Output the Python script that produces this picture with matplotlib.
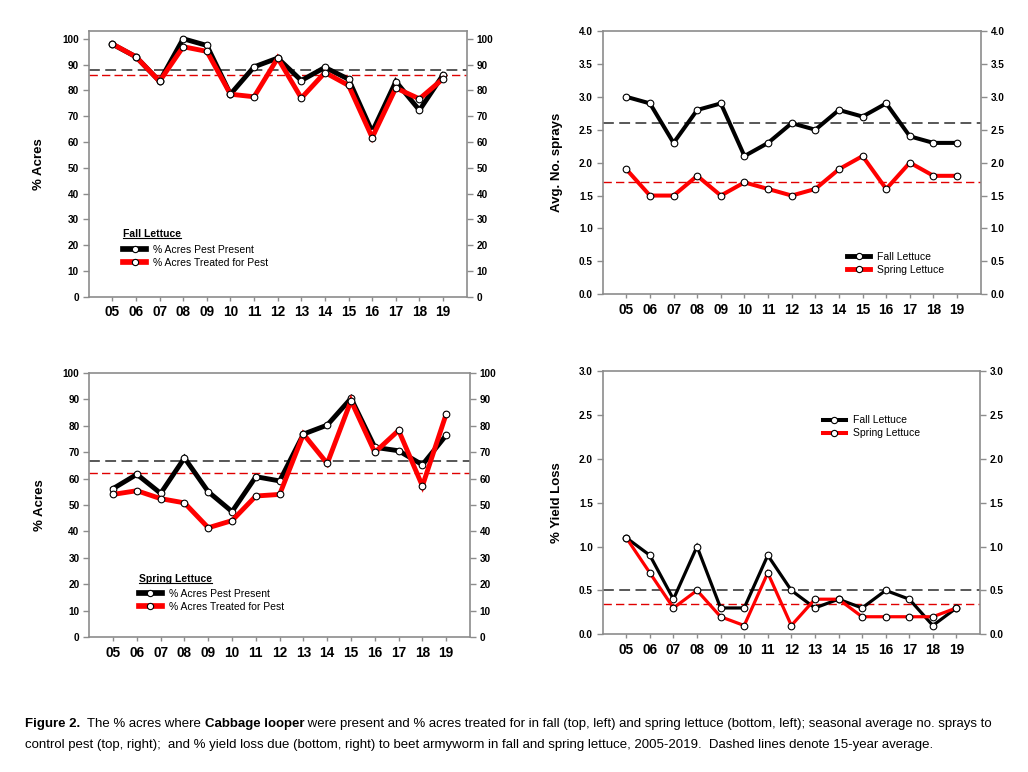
import numpy as np
import matplotlib.pyplot as plt
from matplotlib.lines import Line2D

plt.rcParams['font.family'] = ['Liberation Sans', 'DejaVu Sans']

years = ['05', '06', '07', '08', '09', '10', '11', '12', '13', '14', '15', '16', '17', '18', '19']

# fall lettuce, % acres (top left)
fall_present = [97.9, 93.0, 83.5, 100.0, 97.4, 78.5, 89.1, 92.5, 83.8, 88.9, 84.3, 63.9, 83.4, 72.3, 86.0]
fall_treated = [98.0, 93.0, 83.5, 96.9, 95.1, 78.5, 77.5, 92.5, 77.0, 86.9, 81.9, 61.7, 80.9, 76.7, 84.5]
fall_present_avg = 87.8
fall_treated_avg = 85.9

# spring lettuce, % acres (bottom left)
spring_present = [56.2, 61.6, 54.4, 67.8, 55.0, 47.5, 60.7, 59.1, 76.8, 80.2, 90.3, 71.8, 70.5, 65.2, 76.4]
spring_treated = [54.0, 55.4, 52.4, 50.8, 41.4, 44.1, 53.4, 54.0, 76.8, 65.7, 89.4, 69.9, 78.2, 57.2, 84.4]
spring_present_avg = 66.5
spring_treated_avg = 62.0

# avg no. sprays (top right)
sprays_fall = [3.0, 2.9, 2.3, 2.8, 2.9, 2.1, 2.3, 2.6, 2.5, 2.8, 2.7, 2.9, 2.4, 2.3, 2.3]
sprays_spring = [1.9, 1.5, 1.5, 1.8, 1.5, 1.7, 1.6, 1.5, 1.6, 1.9, 2.1, 1.6, 2.0, 1.8, 1.8]
sprays_fall_avg = 2.6
sprays_spring_avg = 1.7

# % yield loss (bottom right)
loss_fall = [1.1, 0.9, 0.4, 1.0, 0.3, 0.3, 0.9, 0.5, 0.3, 0.4, 0.3, 0.5, 0.4, 0.1, 0.3]
loss_spring = [1.1, 0.7, 0.3, 0.5, 0.2, 0.1, 0.7, 0.1, 0.4, 0.4, 0.2, 0.2, 0.2, 0.2, 0.3]
loss_fall_avg = 0.51
loss_spring_avg = 0.35

GRAY = '#8c8c8c'
W, H = 1028, 772

fig = plt.figure(figsize=(W / 100, H / 100), dpi=100)


def px_axes(left, top, right, bottom):
    return fig.add_axes([left / W, 1 - bottom / H, (right - left) / W, (bottom - top) / H])


def style(ax, ymax, ystep, top, fmt):
    x = np.arange(len(years))
    ax.set_xlim(-1, len(years))
    ax.set_ylim(0, top)
    ax.set_xticks(x)
    ax.set_xticklabels(years)
    ticks = np.arange(0, ymax + ystep / 2, ystep)
    ax.set_yticks(ticks)
    ax.set_yticklabels([fmt % t for t in ticks])
    for s in ax.spines.values():
        s.set_color(GRAY)
        s.set_linewidth(1.2)
    ax.tick_params(axis='y', left=True, right=True, labelleft=True, labelright=True,
                   direction='out', length=4, width=1, color=GRAY, labelsize=7.2, pad=3)
    ax.tick_params(axis='x', direction='out', length=3, width=1, color=GRAY, labelsize=9.8, pad=3)
    for t in ax.xaxis.get_major_ticks() + ax.yaxis.get_major_ticks():
        t.label1.set_fontweight('bold')
        t.label2.set_fontweight('bold')


def draw(ax, black, red, black_avg, red_avg, lw, labels):
    x = np.arange(len(years))
    ax.axhline(black_avg, color='#4a4a4a', lw=1.3, ls=(0, (6, 3)), zorder=1)
    ax.axhline(red_avg, color='#e00000', lw=1.0, ls=(0, (6, 3)), zorder=1)
    kw = dict(marker='o', ms=4.8, mfc='white', mec='black', mew=0.8, solid_joinstyle='miter')
    h1, = ax.plot(x, black, color='black', lw=lw, zorder=3, label=labels[0], **kw)
    h2, = ax.plot(x, red, color='#ff0000', lw=lw, zorder=4, label=labels[1], **kw)
    return [h1, h2]


def legend(ax, handles, x, y, lw):
    hs = [Line2D([], [], color=h.get_color(), lw=lw + 0.6, marker='o', ms=4.5,
                 mfc='white', mec='black', mew=0.8) for h in handles]
    ax.legend(hs, [h.get_label() for h in handles], loc='upper left', bbox_to_anchor=(x, y),
              frameon=False, fontsize=7.5, handlelength=2.2, handletextpad=0.7,
              borderpad=0, borderaxespad=0, labelspacing=0.3, numpoints=1)


ax1 = px_axes(88.7, 31, 466.7, 296.7)
ax2 = px_axes(602.7, 31, 980.7, 294.3)
ax3 = px_axes(89.3, 372.7, 470, 637.3)
ax4 = px_axes(602.7, 371, 980, 634.3)

acre_labels = ['% Acres Pest Present', '% Acres Treated for Pest']
lettuce_labels = ['Fall Lettuce', 'Spring Lettuce']

h = draw(ax1, fall_present, fall_treated, fall_present_avg, fall_treated_avg, 3.5, acre_labels)
style(ax1, 100, 10, 103, '%d')
legend(ax1, h, 0.091, 0.195, 3.5)

h = draw(ax2, sprays_fall, sprays_spring, sprays_fall_avg, sprays_spring_avg, 2.9, lettuce_labels)
style(ax2, 4.0, 0.5, 4.0, '%.1f')
legend(ax2, h, 0.647, 0.162, 2.9)

h = draw(ax3, spring_present, spring_treated, spring_present_avg, spring_treated_avg, 3.5, acre_labels)
style(ax3, 100, 10, 100, '%d')
legend(ax3, h, 0.130, 0.183, 3.5)

h = draw(ax4, loss_fall, loss_spring, loss_fall_avg, loss_spring_avg, 2.3, lettuce_labels)
style(ax4, 3.0, 0.5, 3.0, '%.1f')
legend(ax4, h, 0.583, 0.832, 2.3)

for ax, lab, lx in [(ax1, '% Acres', -0.116), (ax2, 'Avg. No. sprays', -0.106),
                    (ax3, '% Acres', -0.115), (ax4, '% Yield Loss', -0.106)]:
    ax.set_ylabel(lab, fontsize=9.5, fontweight='bold')
    ax.yaxis.set_label_coords(lx, 0.5)

titles = [ax1.text(0.091, 0.236, 'Fall Lettuce', transform=ax1.transAxes, fontsize=7.5,
                   fontweight='bold', va='center'),
          ax3.text(0.130, 0.220, 'Spring Lettuce', transform=ax3.transAxes, fontsize=7.5,
                   fontweight='bold', va='center')]

fig.canvas.draw()
renderer = fig.canvas.get_renderer()
for t in titles:
    bb = t.get_window_extent(renderer)
    yy = (bb.y0 + 1) / H
    fig.add_artist(Line2D([bb.x0 / W, bb.x1 / W], [yy, yy], color='black', lw=0.8))

# caption with mixed bold runs, sized so the first line spans like the original
cap_font = ['Liberation Sans', 'DejaVu Sans']
line1 = [('Figure 2.', 'bold'), ('  The % acres where ', 'normal'), ('Cabbage looper', 'bold'),
         (' were present and % acres treated for in fall (top, left) and spring lettuce (bottom, left); '
          'seasonal average no. sprays to', 'normal')]
line2 = [('control pest (top, right);  and % yield loss due (bottom, right) to beet armyworm in fall '
          'and spring lettuce, 2005-2019.  Dashed lines denote 15-year average.', 'normal')]

probe = 10
total = 0
for txt, wt in line1:
    t = fig.text(0, 0, txt, fontsize=probe, fontweight=wt, family=cap_font)
    total += t.get_window_extent(renderer).width
    t.remove()
cap_size = probe * 972 / total

for runs, yb in [(line1, 727), (line2, 748)]:
    xp = 25
    for txt, wt in runs:
        t = fig.text(xp / W, 1 - yb / H, txt, fontsize=cap_size, fontweight=wt,
                     family=cap_font, va='baseline')
        xp += t.get_window_extent(renderer).width

fig.savefig('out.png', dpi=100)
